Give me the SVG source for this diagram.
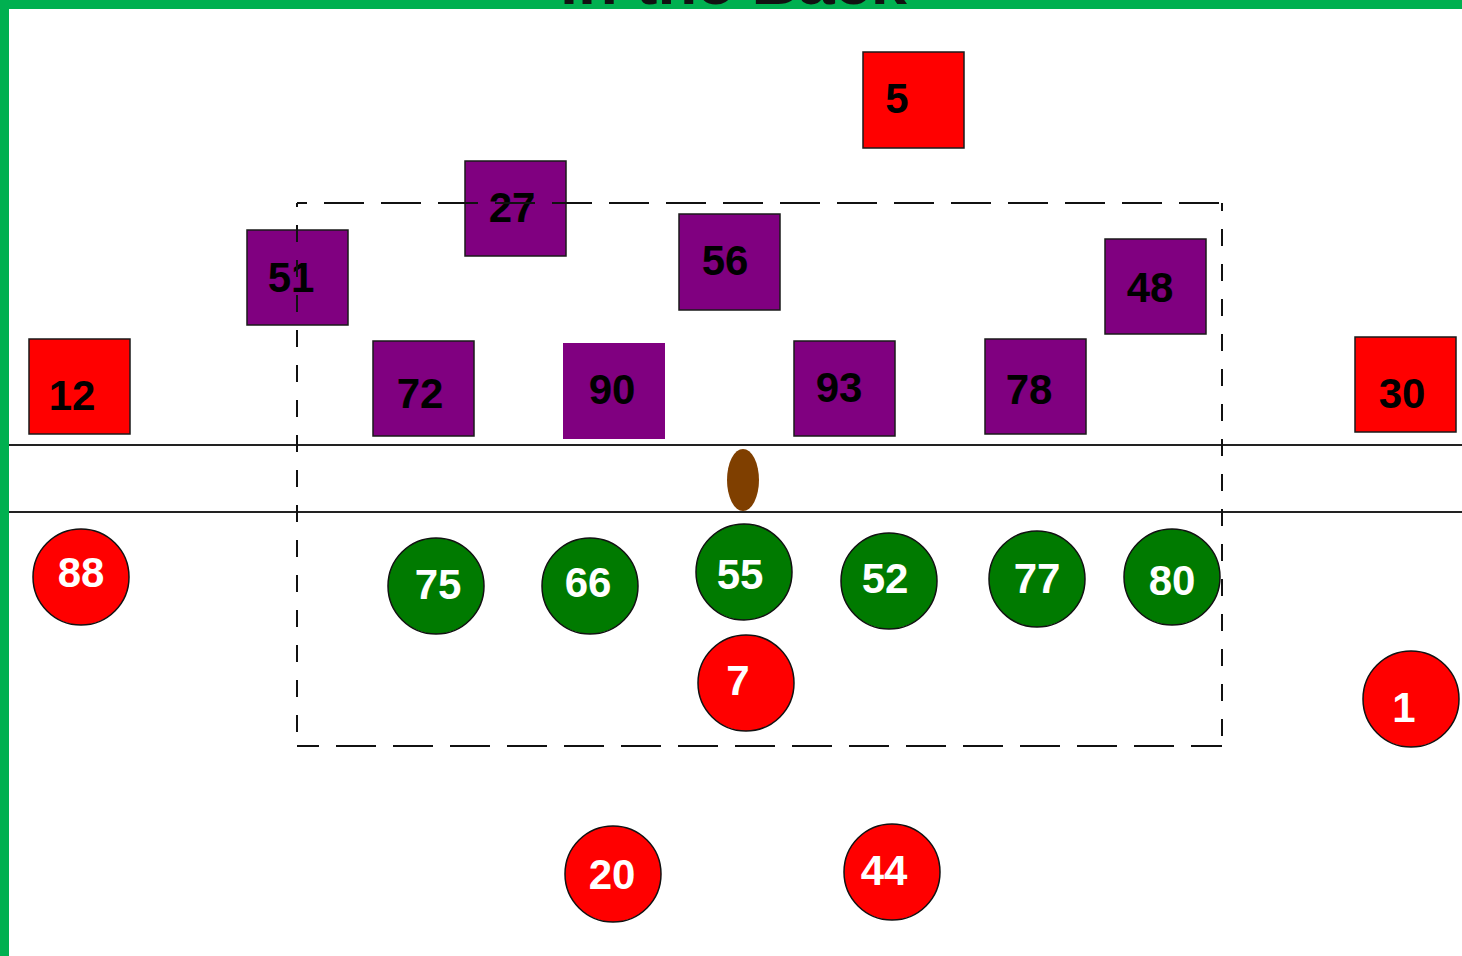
<svg xmlns="http://www.w3.org/2000/svg" width="1462" height="956" viewBox="0 0 1462 956">
<style>
.sq{stroke:#1a1a1a;stroke-width:1.5}
.red{fill:#ff0000}
.pur{fill:#800080}
.grn{fill:#007a00}
.ci{stroke:#111;stroke-width:1.5}
.lb{font-family:"Liberation Sans",Arial,sans-serif;font-weight:bold;font-size:42px;text-anchor:middle;dominant-baseline:central}
.dk{fill:#000}
.wh{fill:#fff}
.ln{stroke:#222;stroke-width:1.8}
.dash{stroke:#111;stroke-width:2;fill:none}
</style>
<rect width="1462" height="956" fill="#fff"/>
<rect x="0" y="0" width="1462" height="9" fill="#00b050"/>
<rect x="0" y="0" width="9" height="956" fill="#00b050"/>
<text x="560" y="4" font-family="Liberation Sans,Arial,sans-serif" font-weight="bold" font-size="60" fill="#111" textLength="347" lengthAdjust="spacingAndGlyphs">in the Back</text>

<g id="field">
<line class="ln" x1="9" y1="445" x2="1462" y2="445"/>
<line class="ln" x1="9" y1="512" x2="1462" y2="512"/>
</g>

<g id="ball"><ellipse cx="743" cy="480" rx="16" ry="31" fill="#7f3f00"/></g>

<g id="n5"><rect class="sq red" x="863" y="52" width="101" height="96"/><text class="lb dk" x="897" y="98">5</text></g>
<g id="n27"><rect class="sq pur" x="465" y="161" width="101" height="95"/><text class="lb dk" x="512" y="207">27</text></g>
<g id="n51"><rect class="sq pur" x="247" y="230" width="101" height="95"/><text class="lb dk" x="291" y="277">51</text></g>
<g id="n56"><rect class="sq pur" x="679" y="214" width="101" height="96"/><text class="lb dk" x="725" y="260">56</text></g>
<g id="n48"><rect class="sq pur" x="1105" y="239" width="101" height="95"/><text class="lb dk" x="1150" y="287">48</text></g>
<g id="n12"><rect class="sq red" x="29" y="339" width="101" height="95"/><text class="lb dk" x="72" y="395">12</text></g>
<g id="n72"><rect class="sq pur" x="373" y="341" width="101" height="95"/><text class="lb dk" x="420" y="393">72</text></g>
<g id="n90"><rect class="pur" x="563" y="343" width="102" height="96"/><text class="lb dk" x="612" y="389">90</text></g>
<g id="n93"><rect class="sq pur" x="794" y="341" width="101" height="95"/><text class="lb dk" x="839" y="387">93</text></g>
<g id="n78"><rect class="sq pur" x="985" y="339" width="101" height="95"/><text class="lb dk" x="1029" y="389">78</text></g>
<g id="n30"><rect class="sq red" x="1355" y="337" width="101" height="95"/><text class="lb dk" x="1402" y="393">30</text></g>

<g id="n88"><circle class="ci red" cx="81" cy="577" r="48"/><text class="lb wh" x="81" y="572">88</text></g>
<g id="n75"><circle class="ci grn" cx="436" cy="586" r="48"/><text class="lb wh" x="438" y="584">75</text></g>
<g id="n66"><circle class="ci grn" cx="590" cy="586" r="48"/><text class="lb wh" x="588" y="582">66</text></g>
<g id="n55"><circle class="ci grn" cx="744" cy="572" r="48"/><text class="lb wh" x="740" y="574">55</text></g>
<g id="n52"><circle class="ci grn" cx="889" cy="581" r="48"/><text class="lb wh" x="885" y="578">52</text></g>
<g id="n77"><circle class="ci grn" cx="1037" cy="579" r="48"/><text class="lb wh" x="1037" y="578">77</text></g>
<g id="n80"><circle class="ci grn" cx="1172" cy="577" r="48"/><text class="lb wh" x="1172" y="580">80</text></g>
<g id="n7"><circle class="ci red" cx="746" cy="683" r="48"/><text class="lb wh" x="738" y="680">7</text></g>
<g id="n1"><circle class="ci red" cx="1411" cy="699" r="48"/><text class="lb wh" x="1404" y="707">1</text></g>
<g id="n20"><circle class="ci red" cx="613" cy="874" r="48"/><text class="lb wh" x="612" y="874">20</text></g>
<g id="n44"><circle class="ci red" cx="892" cy="872" r="48"/><text class="lb wh" x="884" y="870">44</text></g>

<g id="connectors">
<line class="dash" x1="297" y1="203" x2="1222" y2="203" stroke-dasharray="40 17" stroke-dashoffset="30"/>
<line class="dash" x1="1222" y1="203" x2="1222" y2="746" stroke-dasharray="17 18" stroke-dashoffset="9"/>
<line class="dash" x1="297" y1="746" x2="1222" y2="746" stroke-dasharray="40 17" stroke-dashoffset="18"/>
<line class="dash" x1="297" y1="203" x2="297" y2="746" stroke-dasharray="17 18" stroke-dashoffset="13"/>
</g>
</svg>
